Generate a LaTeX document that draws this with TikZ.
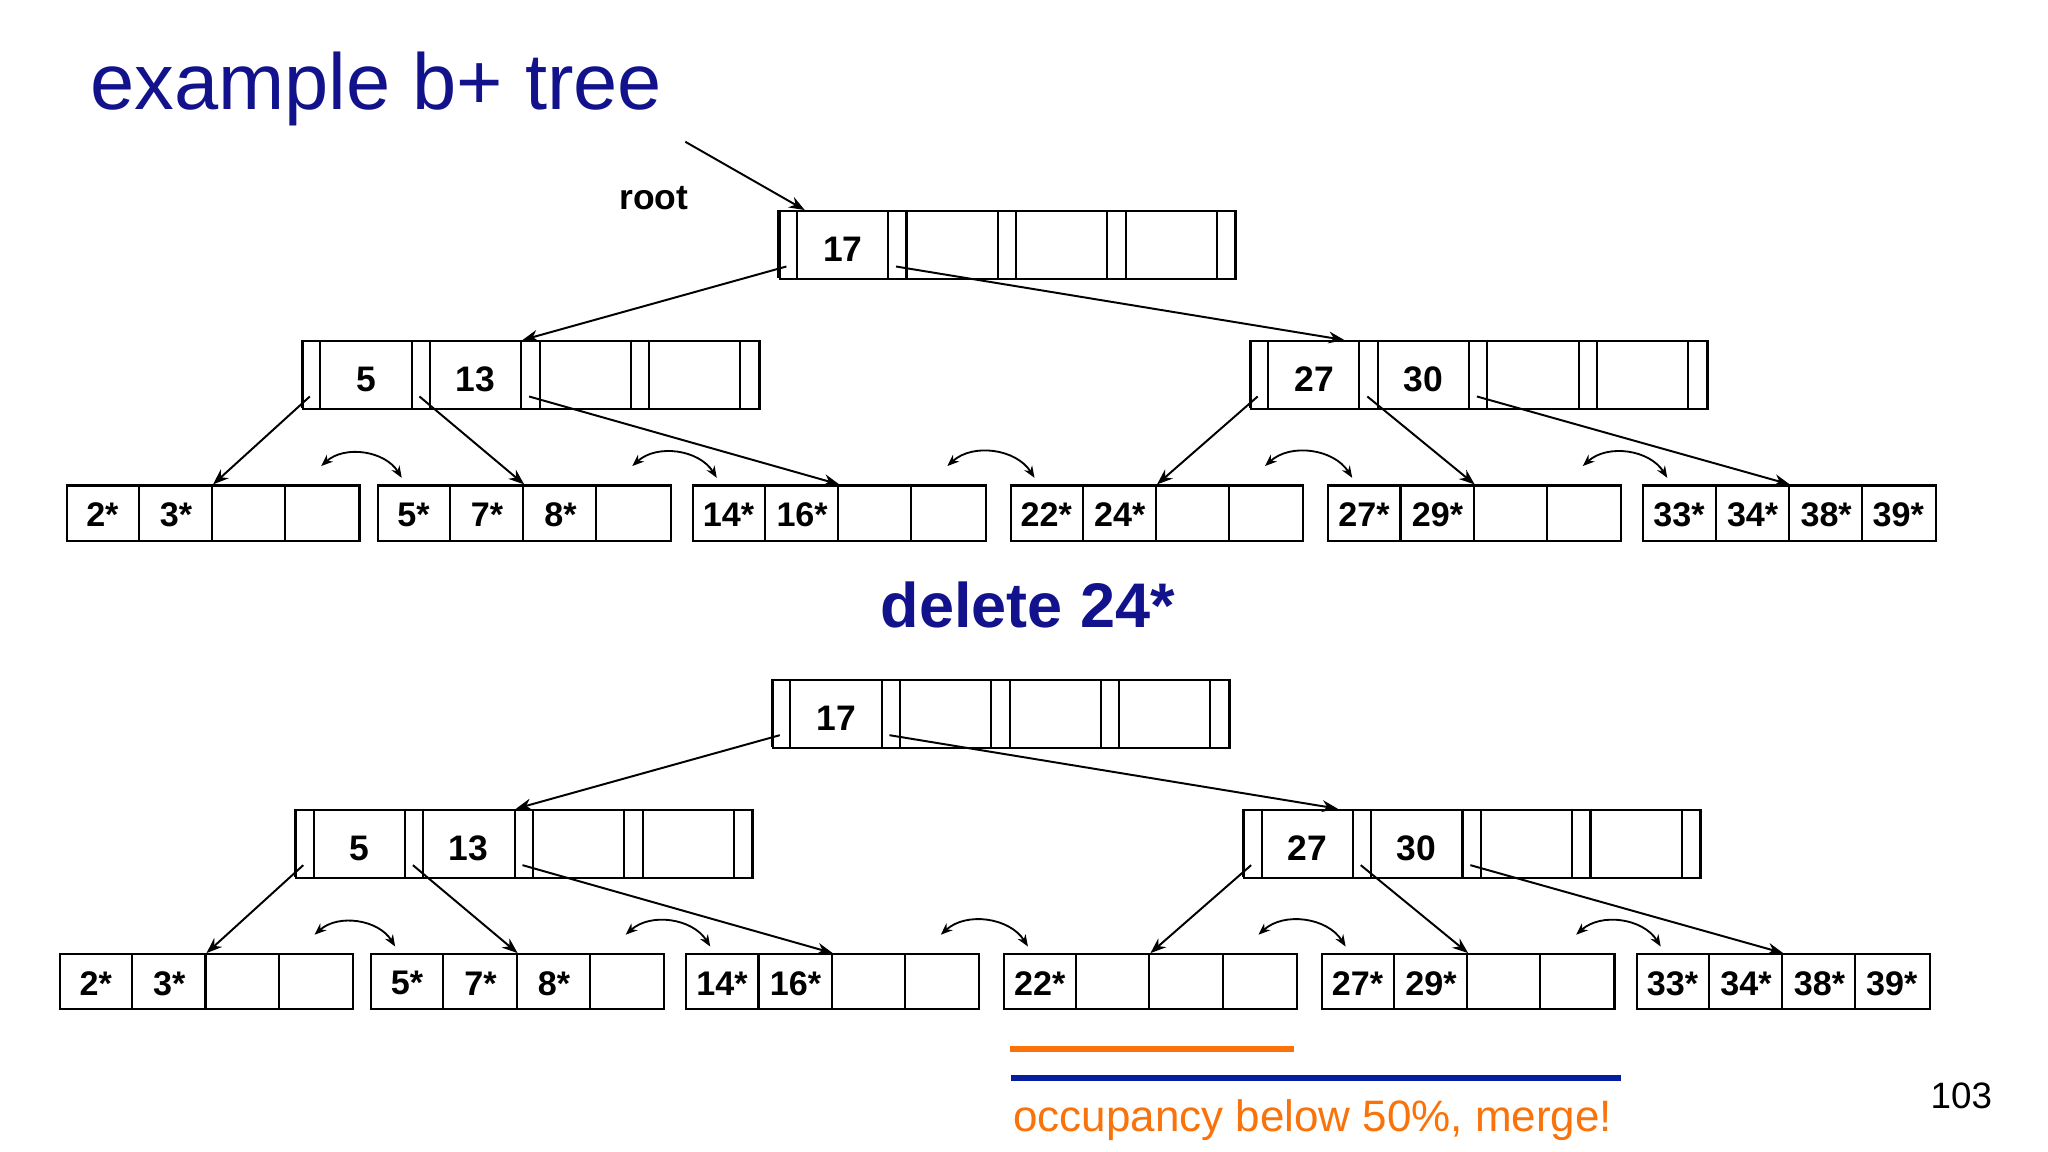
\documentclass[tikz,border=0pt]{standalone}
\usepackage{fontspec}
\setmainfont{Liberation Sans}
\usetikzlibrary{arrows.meta}
\definecolor{ttl}{RGB}{18,18,140}
\definecolor{bl}{RGB}{5,30,160}
\definecolor{org}{RGB}{250,115,10}
\newcommand\bpinner[5]{%
  \node[draw, minimum width=348pt, minimum height=52pt, anchor=north west, inner sep=0] (#1) at (#2,#3) {};
  \foreach \i in {0,...,4}{%
    \draw (#2+83.5*\i,#3) -- ++(0,52);
    \draw (#2+83.5*\i+14,#3) -- ++(0,52);
    \coordinate (#1-p\i) at (#2+83.5*\i+6,#3+43);}
  \node[key] (#1-k1) at (#2+49,#3+30) {#4};
  \node[key] (#1-k2) at (#2+132,#3+30) {#5};
}
\newcommand\bpleaf[7]{%
  \node[draw, minimum width=223pt, minimum height=42pt, anchor=north west, inner sep=0] (#1) at (#2,#3) {};
  \foreach \i in {1,2,3}{\draw (#2+55.75*\i,#3) -- ++(0,42);}
  \node[lkey] (#1-a) at (#2+28,#3+23) {#4};
  \node[lkey] (#1-b) at (#2+84,#3+23) {#5};
  \node[lkey] (#1-c) at (#2+140,#3+23) {#6};
  \node[lkey] (#1-d) at (#2+195,#3+23) {#7};
}
\newcommand\bptree[4]{%
  \bpinner{#1r}{#2+593}{#3+160}{17}{}
  \bpinner{#1a}{#2+230}{#3+259}{5}{13}
  \bpinner{#1b}{#2+952}{#3+259}{27}{30}
  \bpleaf{#1l1}{#2+50}{#3+369}{2*}{3*}{}{}
  \bpleaf{#1l2}{#2+287}{#3+369}{5*}{7*}{8*}{}
  \bpleaf{#1l3}{#2+527}{#3+369}{14*}{16*}{}{}
  \bpleaf{#1l4}{#2+769}{#3+369}{22*}{#4}{}{}
  \bpleaf{#1l5}{#2+1011}{#3+369}{27*}{29*}{}{}
  \bpleaf{#1l6}{#2+1251}{#3+369}{33*}{34*}{38*}{39*}
  \draw[ptr] (#1r-p0) -- ([xshift=168pt]#1a.north west);
  \draw[ptr] (#1r-p1) -- ([xshift=72pt]#1b.north west);
  \draw[ptr] (#1a-p0) -- (#1l1.north);
  \draw[ptr] (#1a-p1) -- (#1l2.north);
  \draw[ptr] (#1a-p2) -- (#1l3.north);
  \draw[ptr] (#1b-p0) -- (#1l4.north);
  \draw[ptr] (#1b-p1) -- (#1l5.north);
  \draw[ptr] (#1b-p2) -- (#1l6.north);
  \foreach \u/\v in {l1/l2,l2/l3,l3/l4,l4/l5,l5/l6}{%
    \draw[sib] ([xshift=-30pt,yshift=14pt]#1\u.north east) to[bend left=50] ([xshift=19pt,yshift=5pt]#1\v.north west);}
}
\begin{document}
\begin{tikzpicture}[x=1pt,y=-1pt, line width=1.6pt,
  key/.style={font=\bfseries\fontsize{27}{27}\selectfont, inner sep=0},
  lkey/.style={font=\bfseries\fontsize{26}{26}\selectfont, inner sep=0},
  ptr/.style={-{Stealth[length=12pt,width=9pt]}, line width=1.5pt},
  sib/.style={{Stealth[length=9pt,width=7pt]}-{Stealth[length=9pt,width=7pt]}, line width=1.4pt}]
\useasboundingbox[fill=white] (0,0) rectangle (1560,877.5);
\node[anchor=west, text=ttl, font=\fontsize{60.5}{60.5}\selectfont, inner sep=0] (title) at (68,68) {example b+ tree};
\node[font=\bfseries\fontsize{27}{27}\selectfont, inner sep=0] (root) at (498,151) {root};
\coordinate (rootfrom) at (522,108);
\bptree{t}{0}{0}{24*}
\draw[ptr] (rootfrom) -- ([xshift=20pt]tr.north west);
\node[text=ttl, font=\bfseries\fontsize{48}{48}\selectfont, inner sep=0] (del) at (783,461) {delete 24*};
\bptree{d}{-5}{357}{}
\coordinate (o1) at (769,799); \coordinate (o2) at (986,799);
\coordinate (b1) at (770,821); \coordinate (b2) at (1235,821);
\draw[org, line width=5pt] (o1) -- (o2);
\draw[bl, line width=5pt] (b1) -- (b2);
\node[anchor=west, text=org, font=\fontsize{33.5}{33.5}\selectfont, inner sep=0] (occ) at (771,853) {occupancy below 50\%, merge!};
\node[font=\fontsize{28}{28}\selectfont, inner sep=0] (pg) at (1494,835) {103};
\end{tikzpicture}
\end{document}
